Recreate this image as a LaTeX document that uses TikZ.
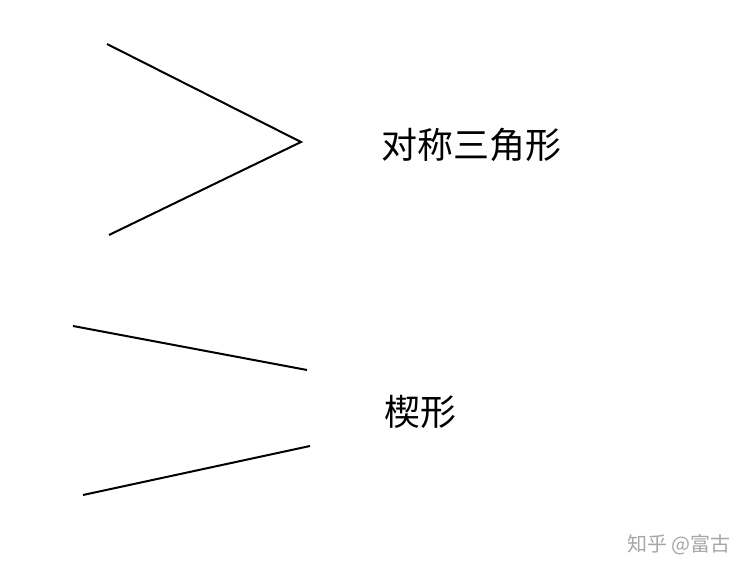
\documentclass[tikz,border=0pt]{standalone}
\usepackage{fontspec}
\newfontfamily\cjk{Noto Sans CJK SC}
\begin{document}
\begin{tikzpicture}[x=1pt,y=-1pt,
  stroke/.style={line width=2pt,black},
  lbl/.style={font=\cjk\fontsize{36}{40}\selectfont,anchor=west,inner sep=0pt},
  wm/.style={font=\cjk\fontsize{20}{24}\selectfont,text=gray!70,anchor=east,inner sep=0pt}]
\useasboundingbox[fill=white] (0,0) rectangle (748,577);
\coordinate (a1) at (107,44); \coordinate (a2) at (301,142); \coordinate (a3) at (109,235);
\draw[stroke] (a1) -- (a2) -- (a3);
\coordinate (b1) at (73,326); \coordinate (b2) at (307,370);
\coordinate (c1) at (83,495); \coordinate (c2) at (310,446);
\draw[stroke] (b1) -- (b2);
\draw[stroke] (c1) -- (c2);
\node[lbl] (t1) at (381,145) {对称三角形};
\node[lbl] (t2) at (384,412) {楔形};
\node[wm] (w) at (731,545) {知乎 @富古};
\end{tikzpicture}
\end{document}
